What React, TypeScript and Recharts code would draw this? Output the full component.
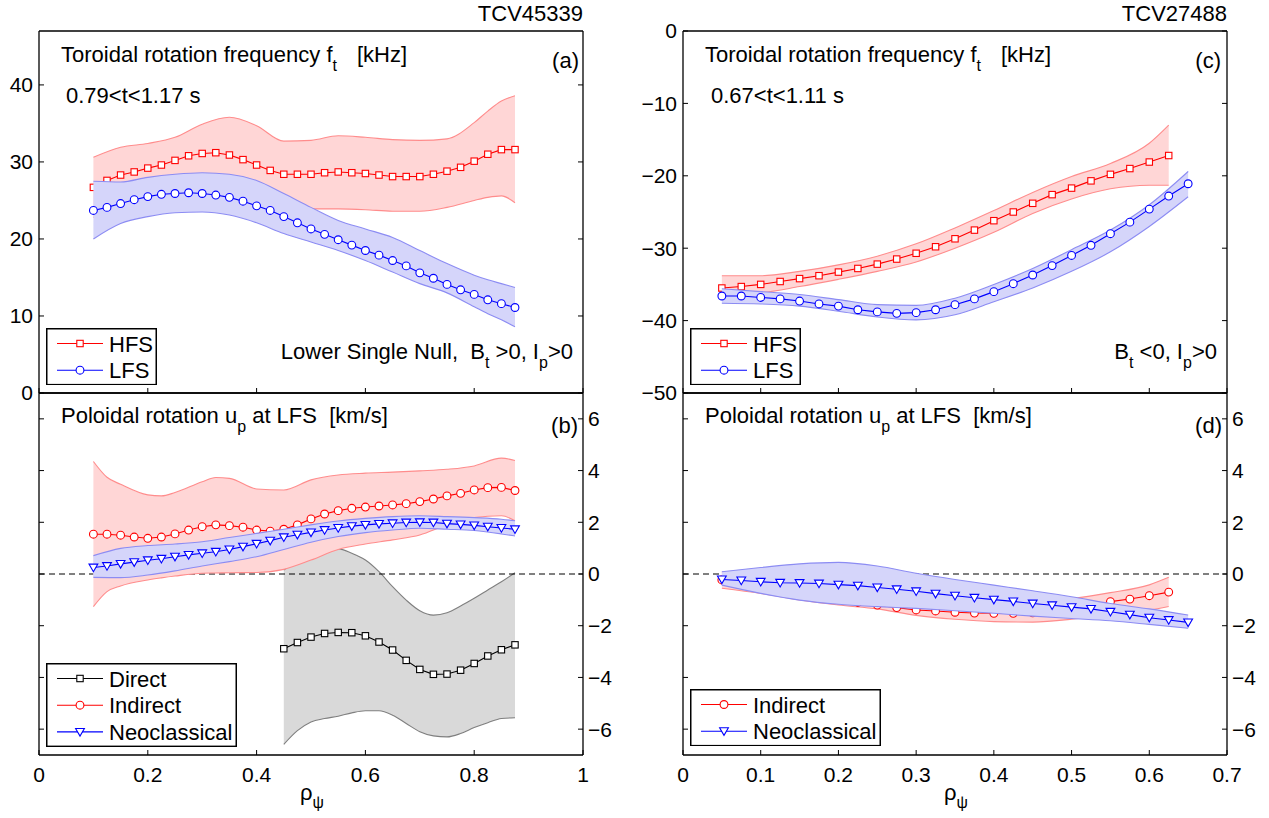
import React from "react";
import { ComposedChart, Line, Area, XAxis, YAxis, ReferenceLine, Legend } from "recharts";

const FONT = '"Liberation Sans", Arial, Helvetica, sans-serif';
const RED = "#ff0000";
const BLUE = "#0000ff";
const BLACK = "#000000";
const PINK = "#ffd6d6";
const PINK_EDGE = "#ff8c8c";
const LILAC = "#d5d5fa";
const LILAC_EDGE = "#8c8cf3";
const GREY = "#d9d9d9";
const GREY_EDGE = "#7f7f7f";

// ---- (a) TCV45339, toroidal rotation frequency [kHz]
const rhoA = [0.1, 0.125, 0.15, 0.175, 0.2, 0.225, 0.25, 0.275, 0.3, 0.325, 0.35, 0.375, 0.4, 0.425, 0.45, 0.475,
  0.5, 0.525, 0.55, 0.575, 0.6, 0.625, 0.65, 0.675, 0.7, 0.725, 0.75, 0.775, 0.8, 0.825, 0.85, 0.875];
const hfsA = [26.7, 27.6, 28.3, 28.7, 29.2, 29.6, 30.2, 30.8, 31.1, 31.2, 30.9, 30.3, 29.6, 28.9, 28.4, 28.4,
  28.4, 28.6, 28.7, 28.6, 28.5, 28.3, 28.1, 28.1, 28.1, 28.4, 28.8, 29.3, 30.1, 31.0, 31.6, 31.6];
const lfsA = [23.7, 24.1, 24.6, 25.1, 25.5, 25.8, 25.9, 26.0, 25.9, 25.7, 25.4, 24.9, 24.3, 23.7, 22.9, 22.1,
  21.3, 20.6, 19.9, 19.2, 18.5, 17.9, 17.2, 16.5, 15.6, 14.9, 14.1, 13.4, 12.8, 12.1, 11.6, 11.1];
const bandRhoA = [0.1, 0.15, 0.2, 0.25, 0.3, 0.35, 0.4, 0.45, 0.5, 0.55, 0.6, 0.65, 0.7, 0.75, 0.8, 0.825, 0.85, 0.875];
const hfsAHi = [30.6, 31.9, 32.4, 33.2, 34.9, 35.8, 34.7, 32.7, 32.8, 33.4, 33.2, 32.9, 32.8, 33.0, 35.1, 36.6, 37.9, 38.6];
const hfsALo = [22.8, 23.5, 24.0, 24.2, 24.5, 24.6, 24.4, 24.1, 23.9, 23.9, 23.8, 23.6, 23.6, 24.1, 25.0, 25.4, 25.6, 24.7];
const lfsAHi = [27.5, 27.4, 28.0, 28.4, 28.6, 28.4, 27.6, 25.9, 24.1, 22.4, 21.3, 20.2, 18.5, 16.8, 15.3, 14.7, 14.2, 13.7];
const lfsALo = [20.0, 22.0, 22.9, 23.4, 23.5, 23.1, 22.1, 20.7, 19.6, 18.5, 17.2, 15.7, 14.2, 13.0, 11.2, 10.3, 9.5, 8.6];

// ---- (b) TCV45339, poloidal rotation at LFS [km/s]
const indirB = [1.54, 1.54, 1.50, 1.43, 1.38, 1.43, 1.55, 1.70, 1.83, 1.90, 1.87, 1.81, 1.70, 1.66, 1.73, 1.90,
  2.13, 2.32, 2.45, 2.54, 2.59, 2.63, 2.67, 2.72, 2.80, 2.90, 3.02, 3.12, 3.25, 3.34, 3.35, 3.23];
const neoB = [0.25, 0.31, 0.39, 0.46, 0.53, 0.59, 0.67, 0.74, 0.80, 0.86, 0.95, 1.06, 1.17, 1.29, 1.42, 1.52,
  1.61, 1.70, 1.78, 1.85, 1.90, 1.94, 1.96, 1.99, 2.00, 1.99, 1.95, 1.92, 1.88, 1.83, 1.78, 1.73];
const rhoDirect = [0.45, 0.475, 0.5, 0.525, 0.55, 0.575, 0.6, 0.625, 0.65, 0.675, 0.7, 0.725, 0.75, 0.775, 0.8, 0.825, 0.85, 0.875];
const directB = [-2.89, -2.65, -2.44, -2.30, -2.26, -2.27, -2.39, -2.63, -2.94, -3.34, -3.69, -3.88, -3.87, -3.72, -3.46, -3.17, -2.93, -2.74];
const directBHi = [0.15, 0.54, 0.80, 0.95, 0.97, 0.80, 0.54, 0.09, -0.49, -1.01, -1.42, -1.59, -1.50, -1.24, -0.94, -0.62, -0.30, 0.05];
const directBLo = [-6.59, -6.06, -5.72, -5.59, -5.50, -5.37, -5.29, -5.29, -5.46, -5.78, -6.10, -6.26, -6.30, -6.17, -5.94, -5.75, -5.59, -5.56];
const indirBandRho = [0.1, 0.125, 0.15, 0.2, 0.225, 0.25, 0.3, 0.325, 0.35, 0.4, 0.45, 0.5, 0.55, 0.6, 0.65, 0.7, 0.75, 0.8, 0.85, 0.875];
const indirBHi = [4.35, 3.74, 3.47, 3.06, 3.02, 3.15, 3.57, 3.73, 3.70, 3.29, 3.25, 3.64, 3.83, 3.90, 3.94, 3.99, 4.05, 4.18, 4.48, 4.39];
const indirBLo = [-1.26, -0.68, -0.46, -0.23, -0.15, -0.08, 0.03, 0.04, 0.05, 0.06, 0.18, 0.54, 0.95, 1.16, 1.32, 1.51, 1.90, 2.18, 2.25, 2.06];
const neoBandRho = [0.1, 0.15, 0.2, 0.25, 0.3, 0.35, 0.4, 0.45, 0.5, 0.55, 0.6, 0.65, 0.7, 0.75, 0.8, 0.85, 0.875];
const neoBHi = [0.71, 0.99, 1.10, 1.16, 1.25, 1.41, 1.57, 1.73, 1.90, 2.05, 2.15, 2.22, 2.25, 2.22, 2.18, 2.12, 2.06];
const neoBLo = [-0.13, -0.14, -0.04, 0.12, 0.31, 0.48, 0.67, 0.95, 1.23, 1.45, 1.60, 1.70, 1.77, 1.73, 1.68, 1.55, 1.47];

// ---- (c) TCV27488, toroidal rotation frequency [kHz]
const rhoC = [0.05, 0.075, 0.1, 0.125, 0.15, 0.175, 0.2, 0.225, 0.25, 0.275, 0.3, 0.325, 0.35, 0.375, 0.4, 0.425,
  0.45, 0.475, 0.5, 0.525, 0.55, 0.575, 0.6, 0.625];
const rhoCL = [...rhoC, 0.65];
const hfsC = [-35.5, -35.3, -35.0, -34.6, -34.2, -33.8, -33.3, -32.8, -32.2, -31.5, -30.7, -29.8, -28.7, -27.5, -26.2, -25.0,
  -23.8, -22.6, -21.7, -20.7, -19.8, -19.0, -18.1, -17.2];
const lfsC = [-36.6, -36.6, -36.8, -37.0, -37.3, -37.7, -38.0, -38.5, -38.8, -39.0, -38.9, -38.5, -37.8, -37.0, -36.0, -34.9,
  -33.7, -32.4, -31.0, -29.6, -28.0, -26.4, -24.6, -22.8, -21.1];
const hfsBandRhoC = [0.05, 0.1, 0.15, 0.2, 0.25, 0.3, 0.35, 0.4, 0.45, 0.5, 0.55, 0.6, 0.625];
const hfsCHi = [-33.8, -33.8, -33.2, -32.3, -31.1, -29.4, -27.2, -24.8, -22.3, -20.1, -18.3, -15.5, -13.0];
const hfsCLo = [-36.2, -36.1, -35.3, -34.3, -33.2, -31.9, -30.0, -27.8, -25.2, -23.2, -21.8, -21.3, -21.3];
const lfsBandRhoC = [0.05, 0.1, 0.15, 0.2, 0.25, 0.3, 0.35, 0.4, 0.45, 0.5, 0.55, 0.6, 0.65];
const lfsCHi = [-35.6, -36.0, -36.4, -37.1, -37.8, -37.9, -36.9, -35.0, -32.8, -30.2, -27.5, -24.0, -19.4];
const lfsCLo = [-37.6, -37.7, -38.0, -38.7, -39.5, -39.9, -39.2, -37.4, -35.5, -33.2, -30.5, -27.0, -22.9];

// ---- (d) TCV27488, poloidal rotation at LFS [km/s]
const indirD = [-0.23, -0.32, -0.45, -0.60, -0.75, -0.88, -1.00, -1.10, -1.20, -1.30, -1.39, -1.43, -1.48, -1.51, -1.52, -1.52,
  -1.50, -1.44, -1.35, -1.22, -1.07, -0.97, -0.84, -0.70];
const neoD = [-0.21, -0.25, -0.30, -0.34, -0.35, -0.37, -0.41, -0.45, -0.52, -0.59, -0.67, -0.76, -0.84, -0.92, -0.99, -1.06,
  -1.14, -1.21, -1.28, -1.35, -1.46, -1.57, -1.69, -1.78, -1.87];
const indirBandRhoD = [0.05, 0.1, 0.15, 0.2, 0.25, 0.3, 0.35, 0.4, 0.45, 0.5, 0.55, 0.6, 0.625];
const indirDHi = [0.08, -0.10, -0.30, -0.50, -0.70, -0.90, -1.05, -1.10, -1.05, -0.95, -0.72, -0.42, -0.13];
const indirDLo = [-0.55, -0.75, -1.00, -1.20, -1.35, -1.60, -1.75, -1.84, -1.86, -1.75, -1.55, -1.40, -1.26];
const neoBandRhoD = [0.05, 0.1, 0.15, 0.2, 0.25, 0.3, 0.35, 0.4, 0.45, 0.5, 0.55, 0.6, 0.65];
const neoDHi = [0.09, 0.25, 0.39, 0.45, 0.31, 0.03, -0.21, -0.43, -0.65, -0.88, -1.14, -1.35, -1.59];
const neoDLo = [-0.43, -0.75, -1.01, -1.17, -1.26, -1.33, -1.42, -1.52, -1.63, -1.72, -1.81, -1.95, -2.10];

// ---- axes ticks
const xTicksL = [0, 0.2, 0.4, 0.6, 0.8, 1];
const xTicksR = [0, 0.1, 0.2, 0.3, 0.4, 0.5, 0.6, 0.7];
const yTicksA = [0, 10, 20, 30, 40];
const yTicksC = [-50, -40, -30, -20, -10, 0];
const yTicksP = [-6, -4, -2, 0, 2, 4, 6];

const pts = (xs: number[], ys: number[]) => xs.map((x, i) => ({ x, y: ys[i] }));
const band = (xs: number[], lo: number[], hi: number[]) => xs.map((x, i) => ({ x, band: [lo[i], hi[i]] }));

const fmt = (v: number) => (v < 0 ? "\u2212" + Math.abs(v) : String(v));
const blank = () => "";

type Shape = "square" | "circle" | "triangle";

function Marker({ shape, cx, cy, color }: { shape: Shape; cx: number; cy: number; color: string }) {
  if (shape === "square")
    return <rect x={cx - 3.2} y={cy - 3.2} width={6.4} height={6.4} fill="#fff" stroke={color} strokeWidth={1.1} />;
  if (shape === "circle") return <circle cx={cx} cy={cy} r={3.9} fill="#fff" stroke={color} strokeWidth={1.1} />;
  return (
    <polygon
      points={`${cx - 4.4},${cy - 3.4} ${cx + 4.4},${cy - 3.4} ${cx},${cy + 4.2}`}
      fill="#fff"
      stroke={color}
      strokeWidth={1.1}
    />
  );
}

const dot = (shape: Shape, color: string) => (p: any) =>
  p.cx == null || p.cy == null ? (
    <g key={`e-${p.index}`} />
  ) : (
    <Marker key={`m-${p.index}`} shape={shape} cx={p.cx} cy={p.cy} color={color} />
  );

type LegendItem = { label: string; shape: Shape; color: string };

function LegendBox({ items, width }: { items: LegendItem[]; width: number }) {
  const rowH = 26.7;
  const h = items.length * rowH + 4;
  return (
    <svg width={width} height={h} style={{ display: "block" }}>
      <rect x={0.75} y={0.75} width={width - 1.5} height={h - 1.5} fill="#fff" stroke="#000" strokeWidth={1.5} />
      {items.map((it, i) => {
        const y = 15.5 + i * rowH;
        return (
          <g key={it.label}>
            <line x1={11} x2={57} y1={y} y2={y} stroke={it.color} strokeWidth={1.1} />
            <Marker shape={it.shape} cx={34} cy={y} color={it.color} />
            <text x={63} y={y + 8} fontSize={22} fontFamily={FONT} fill="#000">
              {it.label}
            </text>
          </g>
        );
      })}
    </svg>
  );
}

const axisLine = { stroke: "#000", strokeWidth: 1.3 };
const tickLine = { stroke: "#000", strokeWidth: 1 };
const tickStyle = { fill: "#000", fontSize: 21, fontFamily: FONT };

type Frame = {
  width: number;
  height: number;
  xDomain: number[];
  xTicks: number[];
  yDomain: number[];
  yTicks: number[];
  leftW: number;
  rightW: number;
  topH: number;
  bottomH: number;
  labelX: boolean;
  labelLeft: boolean;
  labelRight: boolean;
};

// ghost axes keep the same plot box but draw nothing (upper layers)
function frameAxes(o: Frame, ghost: boolean) {
  const al = ghost ? false : axisLine;
  const tl = ghost ? false : tickLine;
  return [
    <XAxis key="xb" xAxisId={0} dataKey="x" type="number" orientation="bottom" domain={o.xDomain} ticks={o.xTicks}
      interval={0} height={o.bottomH} allowDataOverflow tickSize={-5} tickMargin={17} axisLine={al}
      tickLine={tl} tick={tickStyle} tickFormatter={o.labelX && !ghost ? fmt : blank} />,
    <XAxis key="xt" xAxisId="t" type="number" orientation="top" domain={o.xDomain} ticks={o.xTicks}
      interval={0} height={o.topH} allowDataOverflow tickSize={-5} tickMargin={10} axisLine={al}
      tickLine={tl} tick={tickStyle} tickFormatter={blank} />,
    <YAxis key="yl" yAxisId={0} type="number" orientation="left" domain={o.yDomain} ticks={o.yTicks}
      interval={0} width={o.leftW} allowDataOverflow tickSize={-5} tickMargin={11} axisLine={al}
      tickLine={tl} tick={tickStyle} tickFormatter={o.labelLeft && !ghost ? fmt : blank} />,
    <YAxis key="yr" yAxisId="r" type="number" orientation="right" domain={o.yDomain} ticks={o.yTicks}
      interval={0} width={o.rightW} allowDataOverflow tickSize={-5} tickMargin={10} axisLine={al}
      tickLine={tl} tick={tickStyle} tickFormatter={o.labelRight && !ghost ? fmt : blank} />,
  ];
}

const margin0 = { top: 0, right: 0, bottom: 0, left: 0 };

const frameA: Frame = { width: 640, height: 412, xDomain: [0, 1], xTicks: xTicksL, yDomain: [0, 47], yTicks: yTicksA,
  leftW: 39, rightW: 57, topH: 31, bottomH: 19, labelX: false, labelLeft: true, labelRight: false };
const frameB: Frame = { width: 640, height: 458, xDomain: [0, 1], xTicks: xTicksL, yDomain: [-7, 7], yTicks: yTicksP,
  leftW: 39, rightW: 57, topH: 33, bottomH: 63, labelX: true, labelLeft: false, labelRight: true };
const frameC: Frame = { width: 649, height: 412, xDomain: [0, 0.7], xTicks: xTicksR, yDomain: [-50, 0], yTicks: yTicksC,
  leftW: 63, rightW: 42, topH: 31, bottomH: 19, labelX: false, labelLeft: true, labelRight: false };
const frameD: Frame = { width: 649, height: 458, xDomain: [0, 0.7], xTicks: xTicksR, yDomain: [-7, 7], yTicks: yTicksP,
  leftW: 63, rightW: 42, topH: 33, bottomH: 63, labelX: true, labelLeft: false, labelRight: true };

// one stacked svg layer, so later series sit on top of earlier bands
function layer(key: string, left: number, top: number, f: Frame, ghost: boolean, children: React.ReactNode[]) {
  return (
    <div key={key} style={{ position: "absolute", left, top }}>
      <ComposedChart width={f.width} height={f.height} margin={margin0}>
        {frameAxes(f, ghost)}
        {children}
      </ComposedChart>
    </div>
  );
}

function bandArea(key: string, data: any[], fill: string, edge: string) {
  return (
    <Area key={key} data={data} dataKey="band" type="monotone" fill={fill} fillOpacity={1}
      stroke={edge} strokeWidth={1.1} isAnimationActive={false} activeDot={false} />
  );
}

function markLine(key: string, data: any[], color: string, shape: Shape) {
  return (
    <Line key={key} data={data} dataKey="y" stroke={color} strokeWidth={1.1} dot={dot(shape, color)}
      activeDot={false} isAnimationActive={false} />
  );
}

function legend(key: string, left: number, top: number, width: number, items: LegendItem[]) {
  return (
    <Legend key={key} layout="vertical" align="center" verticalAlign="middle"
      wrapperStyle={{ left, top, width }}
      content={() => <LegendBox width={width} items={items} />} />
  );
}

function Sub({ children, fs = 16, dy = 9 }: { children: React.ReactNode; fs?: number; dy?: number }) {
  return (
    <tspan dy={dy} fontSize={fs}>
      {children}
    </tspan>
  );
}

export default function App() {
  return (
    <div style={{ position: "absolute", left: 0, top: 0, width: 1269, height: 818, background: "#fff" }}>
      {/* (a) */}
      {layer("a1", 0, 0, frameA, false, [
        bandArea("hb", band(bandRhoA, hfsALo, hfsAHi), PINK, PINK_EDGE),
        markLine("hl", pts(rhoA, hfsA), RED, "square"),
      ])}
      {layer("a2", 0, 0, frameA, true, [
        bandArea("lb", band(bandRhoA, lfsALo, lfsAHi), LILAC, LILAC_EDGE),
        markLine("ll", pts(rhoA, lfsA), BLUE, "circle"),
        legend("lg", 46, 328, 111, [
          { label: "HFS", shape: "square", color: RED },
          { label: "LFS", shape: "circle", color: BLUE },
        ]),
      ])}

      {/* (b) */}
      {layer("b1", 0, 360, frameB, false, [
        <ReferenceLine key="z" y={0} stroke={BLACK} strokeWidth={1} strokeDasharray="6 4" />,
        bandArea("db", band(rhoDirect, directBLo, directBHi), GREY, GREY_EDGE),
        markLine("dl", pts(rhoDirect, directB), BLACK, "square"),
      ])}
      {layer("b2", 0, 360, frameB, true, [
        bandArea("ib", band(indirBandRho, indirBLo, indirBHi), PINK, PINK_EDGE),
        markLine("il", pts(rhoA, indirB), RED, "circle"),
      ])}
      {layer("b3", 0, 360, frameB, true, [
        bandArea("nb", band(neoBandRho, neoBLo, neoBHi), LILAC, LILAC_EDGE),
        markLine("nl", pts(rhoA, neoB), BLUE, "triangle"),
        legend("lg", 46, 303, 191, [
          { label: "Direct", shape: "square", color: BLACK },
          { label: "Indirect", shape: "circle", color: RED },
          { label: "Neoclassical", shape: "triangle", color: BLUE },
        ]),
      ])}

      {/* (c) */}
      {layer("c1", 620, 0, frameC, false, [
        bandArea("hb", band(hfsBandRhoC, hfsCLo, hfsCHi), PINK, PINK_EDGE),
        markLine("hl", pts(rhoC, hfsC), RED, "square"),
      ])}
      {layer("c2", 620, 0, frameC, true, [
        bandArea("lb", band(lfsBandRhoC, lfsCLo, lfsCHi), LILAC, LILAC_EDGE),
        markLine("ll", pts(rhoCL, lfsC), BLUE, "circle"),
        legend("lg", 70, 328, 111, [
          { label: "HFS", shape: "square", color: RED },
          { label: "LFS", shape: "circle", color: BLUE },
        ]),
      ])}

      {/* (d) */}
      {layer("d1", 620, 360, frameD, false, [
        <ReferenceLine key="z" y={0} stroke={BLACK} strokeWidth={1} strokeDasharray="6 4" />,
        bandArea("ib", band(indirBandRhoD, indirDLo, indirDHi), PINK, PINK_EDGE),
        markLine("il", pts(rhoC, indirD), RED, "circle"),
      ])}
      {layer("d2", 620, 360, frameD, true, [
        bandArea("nb", band(neoBandRhoD, neoDLo, neoDHi), LILAC, LILAC_EDGE),
        markLine("nl", pts(rhoCL, neoD), BLUE, "triangle"),
        legend("lg", 70, 329, 191, [
          { label: "Indirect", shape: "circle", color: RED },
          { label: "Neoclassical", shape: "triangle", color: BLUE },
        ]),
      ])}

      {/* text annotations */}
      <svg width={1269} height={818}
        style={{ position: "absolute", left: 0, top: 0, pointerEvents: "none" }}
        fontFamily={FONT} fontSize={22} fill="#000">
        <text x={583} y={21} textAnchor="end">TCV45339</text>
        <text x={1227} y={21} textAnchor="end">TCV27488</text>

        <text x={61} y={62} style={{ whiteSpace: "pre" }}>
          Toroidal rotation frequency f<Sub>t</Sub>
          <tspan dy={-9} dx={20}>[kHz]</tspan>
        </text>
        <text x={579} y={68} textAnchor="end">(a)</text>
        <text x={66} y={103}>0.79&lt;t&lt;1.17 s</text>
        <text x={573} y={359} textAnchor="end" style={{ whiteSpace: "pre" }}>
          Lower Single Null,  B<Sub>t</Sub>
          <tspan dy={-9}> &gt;0, I</tspan>
          <Sub>p</Sub>
          <tspan dy={-9}>&gt;0</tspan>
        </text>

        <text x={61} y={423} style={{ whiteSpace: "pre" }}>
          Poloidal rotation u<Sub>p</Sub>
          <tspan dy={-9}> at LFS  [km/s]</tspan>
        </text>
        <text x={578} y={433} textAnchor="end">(b)</text>

        <text x={705} y={62} style={{ whiteSpace: "pre" }}>
          Toroidal rotation frequency f<Sub>t</Sub>
          <tspan dy={-9} dx={20}>[kHz]</tspan>
        </text>
        <text x={1221} y={68} textAnchor="end">(c)</text>
        <text x={711} y={103}>0.67&lt;t&lt;1.11 s</text>
        <text x={1217} y={359} textAnchor="end" style={{ whiteSpace: "pre" }}>
          B<Sub>t</Sub>
          <tspan dy={-9}> &lt;0, I</tspan>
          <Sub>p</Sub>
          <tspan dy={-9}>&gt;0</tspan>
        </text>

        <text x={705} y={423} style={{ whiteSpace: "pre" }}>
          Poloidal rotation u<Sub>p</Sub>
          <tspan dy={-9}> at LFS  [km/s]</tspan>
        </text>
        <text x={1222} y={433} textAnchor="end">(d)</text>

        <text x={300} y={800}>
          ρ<Sub dy={8}>ψ</Sub>
        </text>
        <text x={944} y={800}>
          ρ<Sub dy={8}>ψ</Sub>
        </text>
      </svg>
    </div>
  );
}
